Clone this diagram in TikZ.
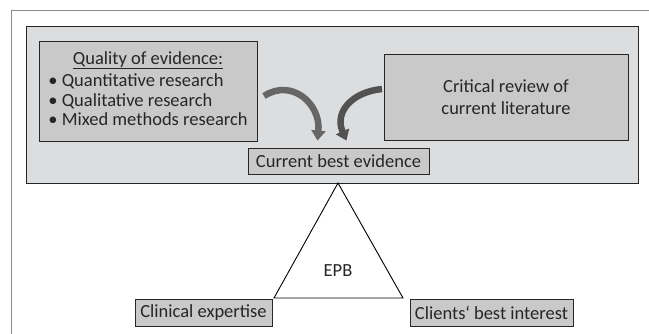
\documentclass[tikz,border=0pt]{standalone}
\usepackage{fontspec}
\setmainfont{Carlito}
\usepackage{tikz}
\usetikzlibrary{arrows.meta,positioning}
\definecolor{framegray}{HTML}{8A8A8A}
\definecolor{panelgray}{HTML}{DCDDDF}
\definecolor{boxgray}{HTML}{C9C9CA}
\definecolor{inkgray}{HTML}{262626}
\definecolor{arrowgray}{HTML}{666666}
\tikzset{
  every picture/.style = {
    x = 1pt,
    y = 1pt,
    font = \fontsize{18.5}{19.5}\selectfont,
    text = inkgray,
  }
  ,
  panel/.style = {
    rectangle,
    draw = inkgray,
    fill = panelgray,
    line width = 0.9pt
  }
  , % grey boxes with text
  box/.style = {
    rectangle,
    draw = inkgray,
    fill = boxgray,
    line width = 0.9pt,
    inner sep = 3pt
  }
  , % the thick bent arrows
  bent-arrow/.style = {
    draw = arrowgray,
    line width = 6.5pt,
    -{Triangle[width = 14pt, length = 10pt]}
  }
}
\begin{document}
\begin{tikzpicture}
\useasboundingbox (0,0) rectangle (649,334);
\coordinate (fb) at (11,0);
\coordinate (ft) at (11,323);
\coordinate (fr) at (649,323);
\draw[framegray, line width = 1pt] (fb) -- (ft) -- (fr);

\node[panel, minimum width = 612pt, minimum height = 157pt] (panel) at (332,229.5) {};
\node[box, minimum width = 218pt, minimum height = 100pt] (quality) at (148,243)
  {\begin{tabular}{@{}l@{}}\multicolumn{1}{@{}c@{}}{\underline{Quality of evidence:}}\\[3pt]
   \textbullet\ Quantitative research\\
   \textbullet\ Qualitative research\\
   \textbullet\ Mixed methods research\end{tabular}};
\node[box, minimum width = 244pt, minimum height = 86pt, align = center] (review) at (506,237)
  {Critical review of\\[3pt]current literature};
\node[box, minimum width = 181pt, minimum height = 26pt] (best) at (338.5,173) {Current best evidence};

% balance
\coordinate (apex) at (338,151);
\coordinate (baseL) at (274,36);
\coordinate (baseR) at (403,36);
\draw[black, line width = 0.9pt] (apex) -- (baseL) -- (baseR) -- cycle;
\node (epb) at (338,63) {EPB};

\node[box, minimum width = 137pt, minimum height = 27pt] (clinical) at (203.5,21.5) {Clinical expertise};
\node[box, minimum width = 163pt, minimum height = 27pt] (clients) at (491.5,21.5) {Clients‘ best interest};

% arrows into current best evidence
\coordinate (qa) at (264,238);
\coordinate (ra) at (382,245);
\draw[bent-arrow] (qa) .. controls (292,256) and (321,230) .. ([xshift=-21pt,yshift=7pt]best.north);
\draw[bent-arrow, draw = arrowgray!80!black] (ra) .. controls (352,242) and (334,222) .. ([xshift=8pt,yshift=7pt]best.north);
\end{tikzpicture}
\end{document}
